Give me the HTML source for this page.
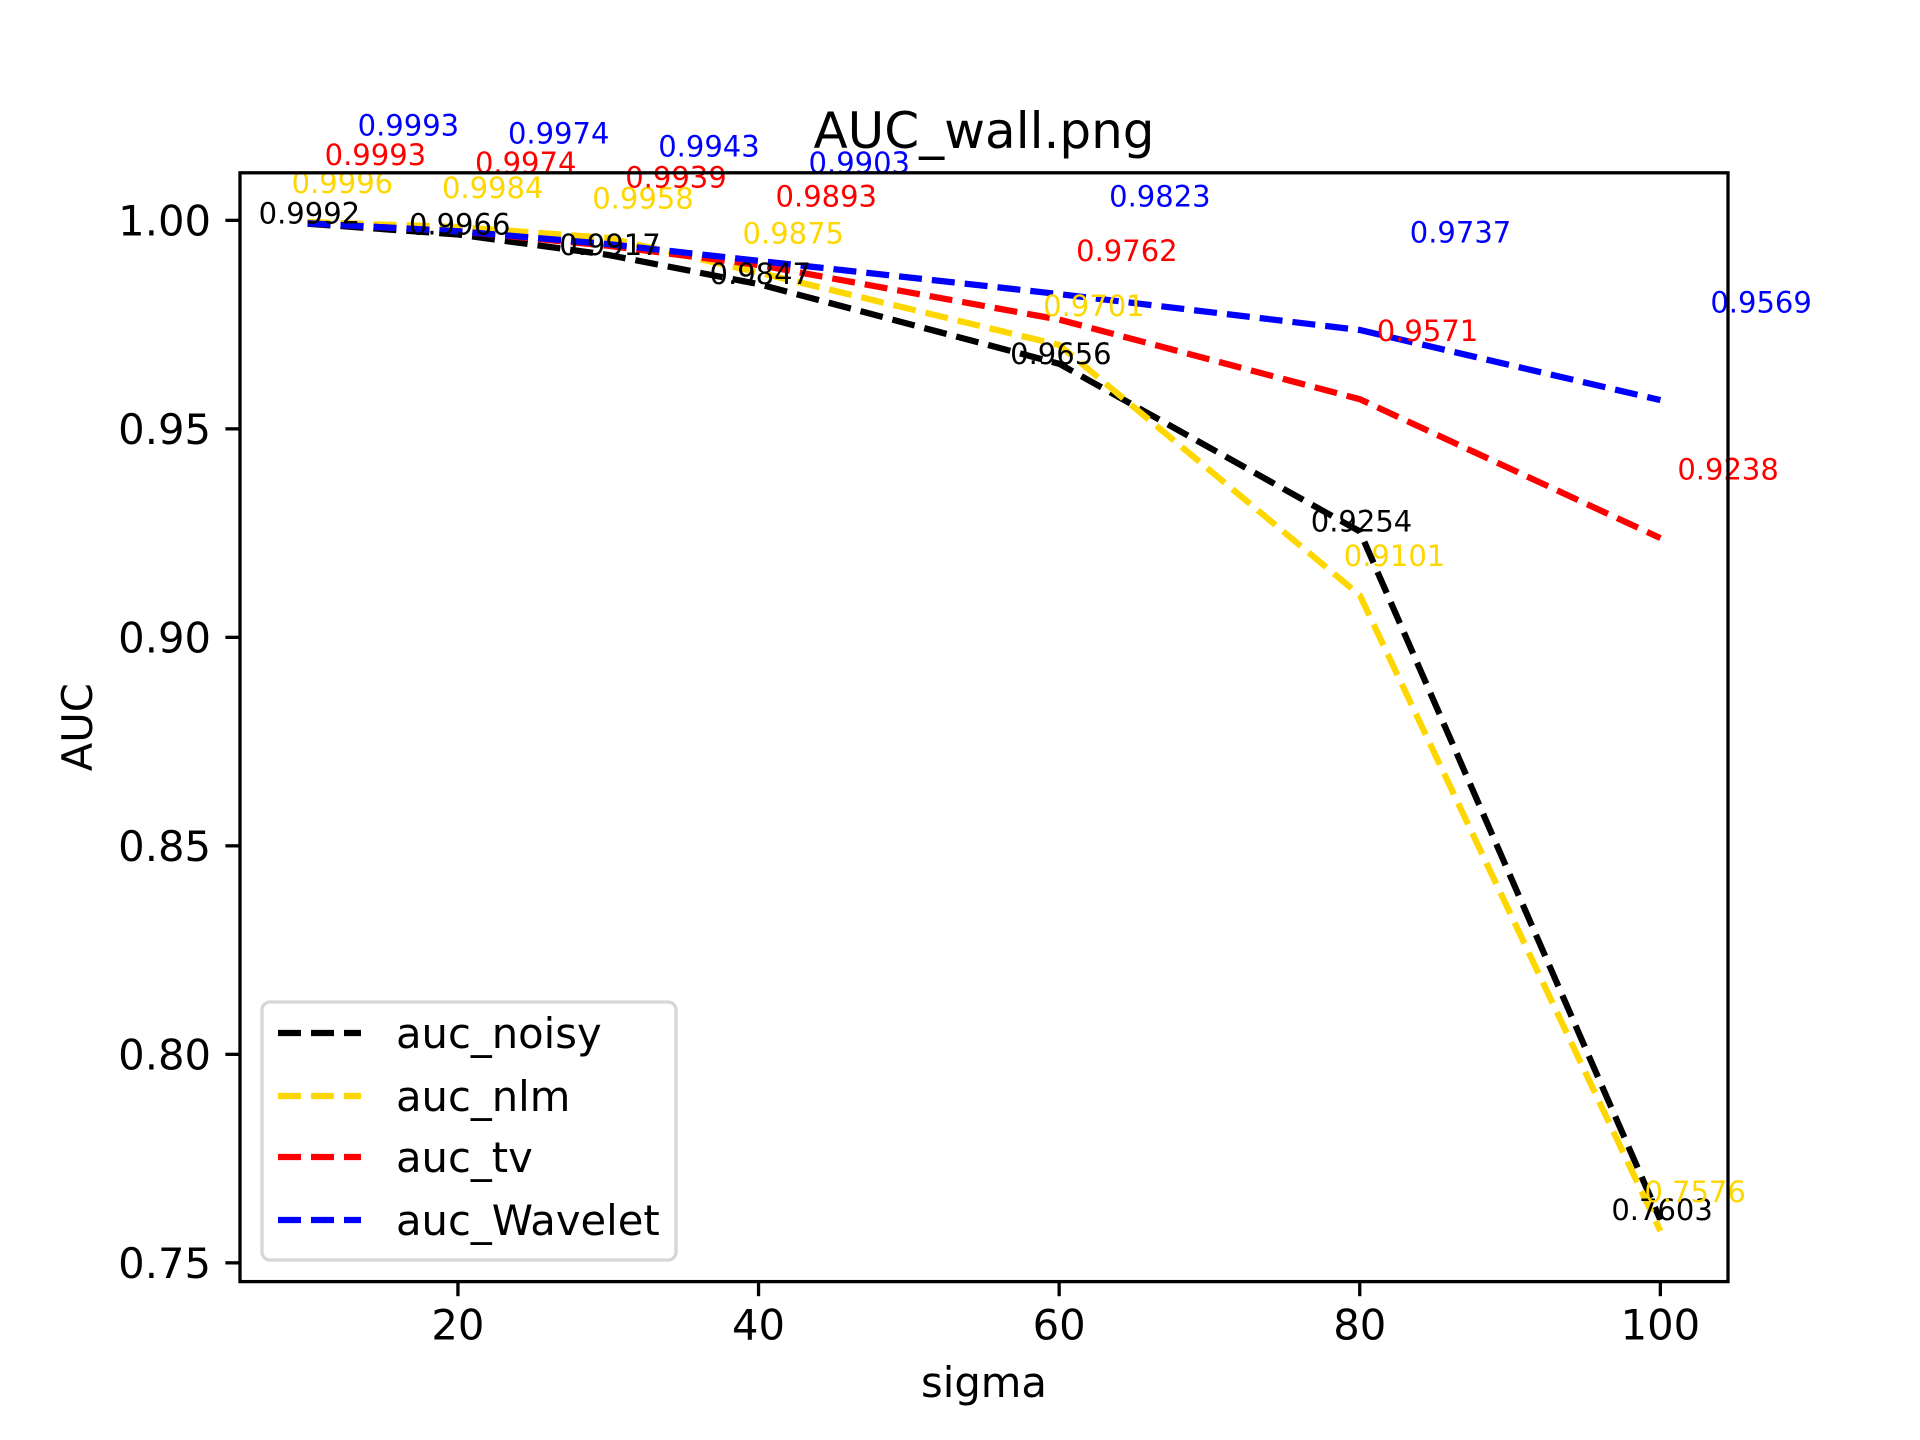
<!DOCTYPE html>
<html><head><meta charset="utf-8"><style>
html,body{margin:0;padding:0;background:#fff;}
svg{display:block;font-family:"DejaVu Sans","Liberation Sans",sans-serif;}
</style></head><body>
<svg id="chart" width="1920" height="1440" viewBox="0 0 1920 1440">
<rect width="1920" height="1440" fill="#fff"/>
<g id="plot"></g>
</svg>
<script>
const sigmas = [10, 20, 30, 40, 60, 80, 100];
const aucNoisy = [0.9992, 0.9966, 0.9917, 0.9847, 0.9656, 0.9254, 0.7603];
const aucNlm = [0.9996, 0.9984, 0.9958, 0.9875, 0.9701, 0.9101, 0.7576];
const aucTv = [0.9993, 0.9974, 0.9939, 0.9893, 0.9762, 0.9571, 0.9238];
const aucWavelet = [0.9993, 0.9974, 0.9943, 0.9903, 0.9823, 0.9737, 0.9569];
const seriesNames = ["auc_noisy", "auc_nlm", "auc_tv", "auc_Wavelet"];
const xTicks = [20, 40, 60, 80, 100];
const yTicks = [0.75, 0.80, 0.85, 0.90, 0.95, 1.00];
const yTickLabels = ["0.75", "0.80", "0.85", "0.90", "0.95", "1.00"];

const NS = "http://www.w3.org/2000/svg";
const L = 240, R = 1728, T = 172.8, B = 1281.6;
const XMIN = 5.5, XMAX = 104.5, YMIN = 0.7455, YMAX = 1.0114;
const xS = v => L + (v - XMIN) / (XMAX - XMIN) * (R - L);
const yS = v => B - (v - YMIN) / (YMAX - YMIN) * (B - T);
const g = document.getElementById('plot');
function mk(tag, attrs, parent) {
  const e = document.createElementNS(NS, tag);
  for (const k in attrs) e.setAttribute(k, attrs[k]);
  (parent || g).appendChild(e);
  return e;
}
const colors = ["#000000", "#FFD700", "#FF0000", "#0000FF"];
const allSeries = [aucNoisy, aucNlm, aucTv, aucWavelet];
const lblDx = [-49, -16, 17, 50];
const lblDy = [0, 0.007, 0.014, 0.021];

allSeries.forEach((vals, si) => {
  const pts = vals.map((v, i) => xS(sigmas[i]).toFixed(1) + "," + yS(v).toFixed(1)).join(" ");
  const pl = mk('polyline', {points: pts, fill: 'none', stroke: colors[si], 'stroke-width': 6.25, 'stroke-dasharray': '23 10'});
  
  
});
allSeries.forEach((vals, si) => {
  vals.forEach((v, i) => {
    const t = mk('text', {x: xS(sigmas[i]) + lblDx[si], y: yS(v + lblDy[si]), 'font-size': 29, fill: colors[si]});
    t.textContent = v.toFixed(4);
    
    
  });
});

const frame = mk('rect', {x: L, y: T, width: R - L, height: B - T, fill: 'none', stroke: '#000', 'stroke-width': 3.3});



xTicks.forEach(v => {
  const x = xS(v);
  const tk = mk('line', {x1: x, x2: x, y1: B, y2: B + 14.6, stroke: '#000', 'stroke-width': 3.3});
  
  
  const t = mk('text', {x: x, y: B + 58, 'font-size': 41.7, 'text-anchor': 'middle'});
  t.textContent = String(v);
  
  
});
yTicks.forEach((v, i) => {
  const y = yS(v);
  const tk = mk('line', {x1: L - 14.6, x2: L, y1: y, y2: y, stroke: '#000', 'stroke-width': 3.3});
  
  
  const t = mk('text', {x: L - 29, y: y + 15, 'font-size': 41.7, 'text-anchor': 'end'});
  t.textContent = yTickLabels[i];
  
  
});

const title = mk('text', {x: (L + R) / 2, y: 148, 'font-size': 50, 'text-anchor': 'middle'});
title.textContent = 'AUC_wall.png';


const xl = mk('text', {x: (L + R) / 2, y: 1397, 'font-size': 41.7, 'text-anchor': 'middle'});
xl.textContent = 'sigma';


const yl = mk('text', {x: 0, y: 0, 'font-size': 41.7, 'text-anchor': 'middle', transform: 'translate(92,' + ((T + B) / 2) + ') rotate(-90)'});
yl.textContent = 'AUC';



const lg = mk('g', {});


mk('rect', {x: 262, y: 1002, width: 414, height: 258, rx: 8, fill: '#fff', 'fill-opacity': 0.8, stroke: '#d6d6d6', 'stroke-width': 3.3}, lg);
const lyPos = [1033, 1096, 1157, 1220];
seriesNames.forEach((n, i) => {
  const e = mk('g', {}, lg);
  
  
  mk('line', {x1: 278, x2: 361, y1: lyPos[i], y2: lyPos[i], stroke: colors[i], 'stroke-width': 6.25, 'stroke-dasharray': '23 10'}, e);
  const t = mk('text', {x: 396, y: lyPos[i] + 15, 'font-size': 41.7}, e);
  t.textContent = n;
});
</script>
</body></html>
